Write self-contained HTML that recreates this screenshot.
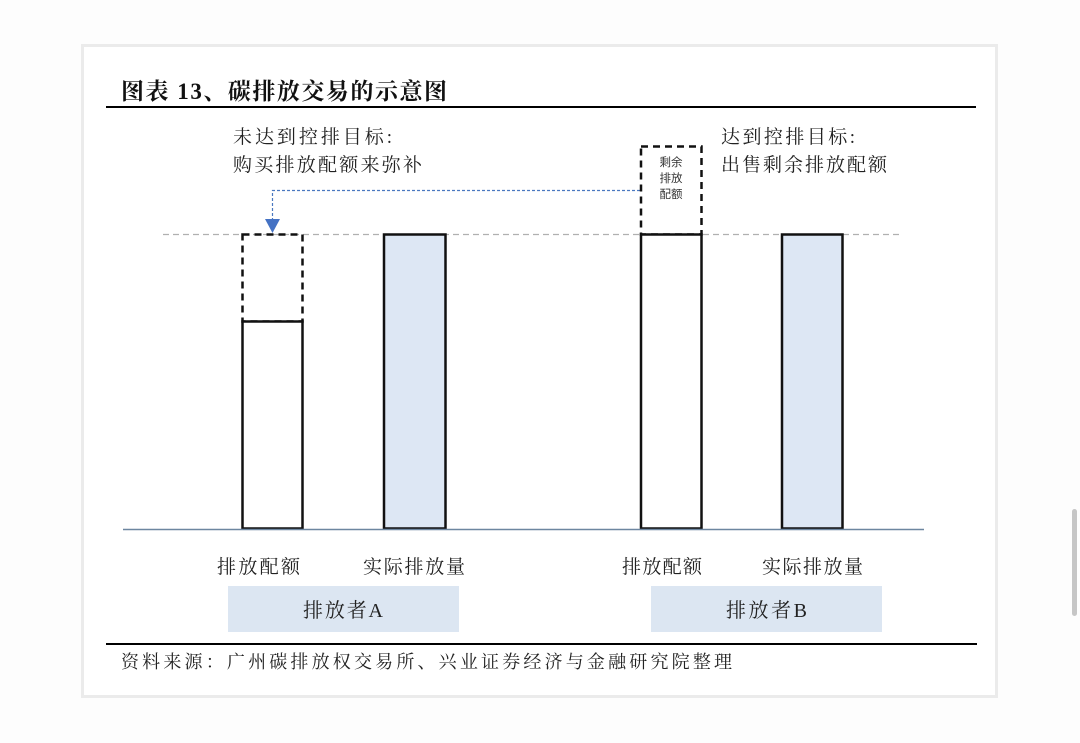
<!DOCTYPE html>
<html><head><meta charset="utf-8"><style>
html,body{margin:0;padding:0;background:#fdfdfd;}
svg{display:block;}
</style></head><body>
<svg width="1080" height="743" viewBox="0 0 1080 743" xmlns="http://www.w3.org/2000/svg">
<rect x="0" y="0" width="1080" height="743" fill="#fdfdfd"/>
<rect x="82.5" y="45.5" width="914" height="651" fill="#ffffff" stroke="#ebebeb" stroke-width="3"/>
<rect x="1072" y="509" width="5" height="107" rx="2.5" fill="#c6c6c6"/>
<g font-family="'Liberation Serif','Noto Serif CJK SC',serif" fill="#111">
<text x="121" y="99" font-size="23" font-weight="bold" textLength="326" lengthAdjust="spacing">图表 13、碳排放交易的示意图</text>
</g>
<line x1="106" y1="107" x2="976" y2="107" stroke="#000" stroke-width="2"/>
<g font-family="'Liberation Serif','Noto Serif CJK SC',serif" font-size="19" fill="#222">
<text x="233" y="143" textLength="159" lengthAdjust="spacing">未达到控排目标:</text>
<text x="233" y="171" textLength="189" lengthAdjust="spacing">购买排放配额来弥补</text>
<text x="721" y="143" textLength="134" lengthAdjust="spacing">达到控排目标:</text>
<text x="721" y="171" textLength="166" lengthAdjust="spacing">出售剩余排放配额</text>
</g>
<!-- dashed reference line -->
<line x1="163" y1="234.5" x2="902" y2="234.5" stroke="#b0b0b0" stroke-width="1.2" stroke-dasharray="6,4"/>
<!-- blue dotted arrow -->
<polyline points="640,190.5 272.5,190.5 272.5,220" fill="none" stroke="#4a78c0" stroke-width="1.2" stroke-dasharray="3,2"/>
<polygon points="265,219 280,219 272.5,233" fill="#4472c4"/>
<!-- A quota dashed part -->
<rect x="242.5" y="234.5" width="60" height="87" fill="none" stroke="#111" stroke-width="2.5" stroke-dasharray="7,5"/>
<!-- A quota solid -->
<rect x="242.5" y="321.5" width="60" height="207" fill="#ffffff" stroke="#111" stroke-width="2.5"/>
<!-- A actual -->
<rect x="384" y="234.5" width="61.5" height="294" fill="#dde7f4" stroke="#111" stroke-width="2.5"/>
<!-- B dashed surplus -->
<rect x="641" y="146.5" width="60.5" height="88" fill="none" stroke="#111" stroke-width="2.5" stroke-dasharray="7,5"/>
<g font-family="'Liberation Sans','Noto Sans CJK SC',sans-serif" font-size="11.5" fill="#333" text-anchor="middle">
<text x="671" y="166">剩余</text>
<text x="671" y="182">排放</text>
<text x="671" y="198">配额</text>
</g>
<!-- B quota solid -->
<rect x="641" y="234.5" width="60.5" height="294" fill="#ffffff" stroke="#111" stroke-width="2.5"/>
<!-- B actual -->
<rect x="782" y="234.5" width="60.5" height="294" fill="#dde7f4" stroke="#111" stroke-width="2.5"/>
<!-- axis -->
<line x1="123" y1="529.5" x2="924" y2="529.5" stroke="#6d86a0" stroke-width="1.5"/>
<g font-family="'Liberation Serif','Noto Serif CJK SC',serif" font-size="19" fill="#222">
<text x="217" y="573" textLength="83" lengthAdjust="spacing">排放配额</text>
<text x="363" y="573" textLength="102" lengthAdjust="spacing">实际排放量</text>
<text x="622" y="573" textLength="80" lengthAdjust="spacing">排放配额</text>
<text x="762" y="573" textLength="101" lengthAdjust="spacing">实际排放量</text>
</g>
<rect x="228" y="586" width="231" height="46" fill="#dce6f2"/>
<rect x="651" y="586" width="231" height="46" fill="#dce6f2"/>
<g font-family="'Liberation Serif','Noto Serif CJK SC',serif" font-size="20" fill="#222">
<text x="303" y="617" textLength="80" lengthAdjust="spacing">排放者A</text>
<text x="726" y="617" textLength="81" lengthAdjust="spacing">排放者B</text>
</g>
<line x1="106" y1="644" x2="977" y2="644" stroke="#000" stroke-width="2"/>
<g font-family="'Liberation Serif','Noto Serif CJK SC',serif" font-size="18" fill="#222">
<text x="121" y="668" textLength="611" lengthAdjust="spacing">资料来源：广州碳排放权交易所、兴业证券经济与金融研究院整理</text>
</g>
</svg>
</body></html>
